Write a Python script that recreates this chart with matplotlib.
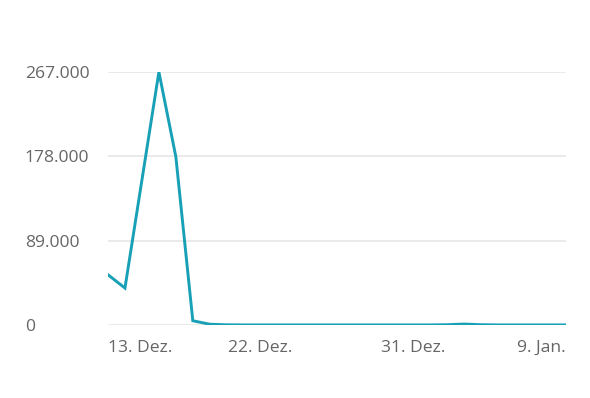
import numpy as np
import matplotlib
matplotlib.use("Agg")
import matplotlib.pyplot as plt
import matplotlib.dates as mdates
import datetime as dt

plt.rcParams['font.family'] = ['Open Sans', 'DejaVu Sans']

start = dt.date(2020, 12, 13)
values = [53000, 39000, 153000, 267000, 177500, 4500, 800, 200, 100, 100,
          100, 100, 100, 100, 100, 100, 100, 100, 100, 100,
          300, 1000, 300, 100, 100, 100, 100, 100]
dates = [start + dt.timedelta(days=i) for i in range(len(values))]

yticks = [0, 89000, 178000, 267000]
ytick_labels = ['0', '89.000', '178.000', '267.000']
xticks = [dt.date(2020, 12, 13), dt.date(2020, 12, 22), dt.date(2020, 12, 31), dt.date(2021, 1, 9)]
xtick_labels = ['13. Dez.', '22. Dez.', '31. Dez.', '9. Jan.']

fig = plt.figure(figsize=(5.9, 3.98), dpi=100)
ax = fig.add_axes([108/590, 73/398, (566-108)/590, (325-72)/398])

ax.plot(dates, values, color='#18a0b7', lw=2.1, solid_joinstyle='miter', zorder=3)

ax.set_xlim(dates[0], dates[-1])
ax.set_ylim(0, 267000)
ax.set_yticks(yticks)
ax.set_yticklabels(ytick_labels)
ax.set_xticks(xticks)
ax.set_xticklabels(xtick_labels)

for s in ax.spines.values():
    s.set_visible(False)
ax.grid(axis='y', color='#e6e6e6', lw=1.2)
ax.tick_params(length=0, labelsize=12.6, labelcolor='#666666')
ax.tick_params(axis='y', pad=60)
ax.tick_params(axis='x', pad=11)
for lab in ax.get_yticklabels():
    lab.set_ha('left')
xl = ax.get_xticklabels()
xl[0].set_ha('left')
xl[-1].set_ha('right')

fig.savefig('out.png', dpi=100)
